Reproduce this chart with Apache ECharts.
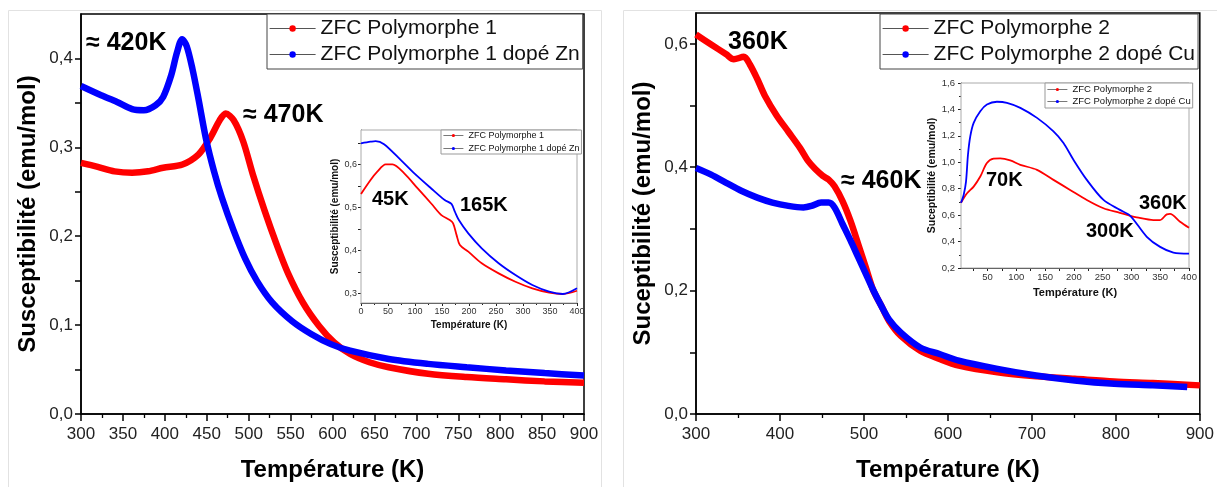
<!DOCTYPE html>
<html>
<head>
<meta charset="utf-8">
<script src="https://cdn.jsdelivr.net/npm/echarts@6.0.0/dist/echarts.min.js"></script>
<style>
html,body{margin:0;padding:0;background:#fff;}
#chart{width:1217px;height:487px;}
</style>
</head>
<body>
<div id="chart"></div>
<script>
// ---------- DATA ----------
// Main left panel: Polymorphe 1 (red) and Polymorphe 1 dopé Zn (blue), T in K, chi in emu/mol
const p1T   = [300, 320, 340, 361, 380, 398, 421, 440, 454, 465.6, 472.6, 482, 493.5, 505, 519, 533, 547, 565, 584, 602, 621, 644, 667, 714, 760, 807, 853, 900];
const p1Chi = [0.2825, 0.278, 0.273, 0.2714, 0.273, 0.277, 0.2807, 0.2918, 0.3103, 0.3307, 0.338, 0.3307, 0.3066, 0.2695, 0.2288, 0.1917, 0.1583, 0.1249, 0.099, 0.0804, 0.0675, 0.0582, 0.0526, 0.0452, 0.0415, 0.039, 0.0367, 0.0352];
const p1ZnT   = [300, 324, 343, 361, 375, 389, 398, 407.6, 414.5, 420.6, 426, 433, 440, 449, 458.6, 468, 482, 496, 510, 528, 551.5, 575, 598, 621, 667, 714, 760, 807, 853, 900];
const p1ZnChi = [0.369, 0.3586, 0.351, 0.343, 0.3418, 0.3474, 0.3567, 0.381, 0.4068, 0.4216, 0.414, 0.388, 0.355, 0.310, 0.2733, 0.2436, 0.2066, 0.1745, 0.1495, 0.1255, 0.1046, 0.0897, 0.0786, 0.0712, 0.0619, 0.0564, 0.0526, 0.049, 0.046, 0.0434];

// Main right panel: Polymorphe 2 (red) and Polymorphe 2 dopé Cu (blue)
const p2T   = [300, 318, 336, 345, 357, 364, 373, 382, 396, 410, 424, 433, 442, 451, 458, 465, 474.5, 484, 493, 502, 511, 521, 530, 544, 567, 590, 613, 659, 705, 751, 798, 844, 900];
const p2Chi = [0.615, 0.599, 0.583, 0.575, 0.579, 0.567, 0.543, 0.516, 0.484, 0.4575, 0.431, 0.411, 0.397, 0.386, 0.380, 0.369, 0.345, 0.313, 0.276, 0.2386, 0.201, 0.1745, 0.1505, 0.1265, 0.1025, 0.0892, 0.0785, 0.0677, 0.0613, 0.0571, 0.0528, 0.0502, 0.0464];
const p2CuT   = [300, 318, 336, 354.5, 373, 391, 410, 428, 437.6, 449, 458, 465, 474.5, 484, 493, 502, 511, 521, 530, 544, 567, 590, 613, 659, 705, 751, 798, 844, 885];
const p2CuChi = [0.3987, 0.388, 0.3747, 0.3614, 0.3507, 0.3427, 0.3373, 0.3347, 0.3373, 0.3427, 0.3427, 0.3347, 0.308, 0.2813, 0.2546, 0.228, 0.201, 0.1745, 0.153, 0.1318, 0.1078, 0.0972, 0.0865, 0.0732, 0.0624, 0.0544, 0.049, 0.0464, 0.0437];

// Left inset (low temperature)
const i1T   = [0, 17.7, 30.2, 45.8, 58.3, 80.1, 105, 130, 148.8, 164.4, 170.6, 176.9, 183.1, 198.7, 223.6, 254.9, 286, 317.3, 348.5, 373.5, 400];
const i1Chi = [0.531, 0.5636, 0.583, 0.600, 0.600, 0.579, 0.544, 0.509, 0.482, 0.4705, 0.463, 0.436, 0.4124, 0.397, 0.370, 0.3465, 0.327, 0.3116, 0.3016, 0.2984, 0.306];
const i1ZnT   = [0, 17.7, 27, 42.7, 73.9, 98.8, 130, 155, 167.5, 173.8, 181.2, 198.7, 223.6, 254.9, 286, 317.3, 348.5, 373.5, 400];
const i1ZnChi = [0.6488, 0.6527, 0.6543, 0.647, 0.610, 0.579, 0.544, 0.517, 0.508, 0.490, 0.4705, 0.4395, 0.4047, 0.370, 0.3426, 0.3194, 0.3039, 0.2984, 0.3116];

// Right inset (low temperature)
const i2T   = [4, 14.5, 26, 37.5, 49, 60.6, 72, 89.5, 107, 136, 164.6, 193.5, 222.5, 251.5, 280, 298, 309.3, 338.2, 349.8, 361.4, 367, 384.5, 400];
const i2Chi = [0.694, 0.766, 0.816, 0.892, 0.994, 1.027, 1.029, 1.014, 0.981, 0.943, 0.867, 0.791, 0.715, 0.652, 0.618, 0.595, 0.583, 0.563, 0.563, 0.606, 0.609, 0.55, 0.504];
const i2CuT   = [4, 8.6, 12.7, 16.1, 20.1, 26, 37.5, 49, 66.4, 83.8, 107, 136, 164.6, 182, 199.3, 222.5, 251.5, 280, 298, 326.7, 349.8, 372.9, 400];
const i2CuChi = [0.694, 0.753, 0.854, 1.057, 1.196, 1.298, 1.386, 1.437, 1.458, 1.450, 1.412, 1.336, 1.234, 1.146, 1.019, 0.867, 0.715, 0.64, 0.595, 0.436, 0.36, 0.317, 0.309];

// Tick values
const mainLeftYTicks  = [0, 0.05, 0.1, 0.15, 0.2, 0.25, 0.3, 0.35, 0.4];
const mainLeftYLabels = [0, 0.1, 0.2, 0.3, 0.4];
const mainRightYTicks  = [0, 0.1, 0.2, 0.3, 0.4, 0.5, 0.6];
const mainRightYLabels = [0, 0.2, 0.4, 0.6];
const inset1YTicks  = [0.3, 0.35, 0.4, 0.45, 0.5, 0.55, 0.6, 0.65];
const inset1YLabels = [0.3, 0.4, 0.5, 0.6];
const inset2XTicks  = [25, 50, 75, 100, 125, 150, 175, 200, 225, 250, 275, 300, 325, 350, 375, 400];
const inset2XLabels = [50, 100, 150, 200, 250, 300, 350, 400];

// Names
const nP1 = 'ZFC Polymorphe 1', nP1Zn = 'ZFC Polymorphe 1 dopé Zn';
const nP2 = 'ZFC Polymorphe 2', nP2Cu = 'ZFC Polymorphe 2 dopé Cu';

// ---------- CHART ----------
const FONT = '"Liberation Sans", Arial, sans-serif';
const RED = '#ff0000', BLUE = '#0000ff';
const pairs = (T, C) => T.map((t, i) => [t, C[i]]);
const comma = d => v => v.toFixed(d).replace('.', ',');

function mainX(grid, interval) {
  return {
    gridIndex: grid, type: 'value', min: 300, max: 900, interval: interval,
    axisLine: { onZero: false, lineStyle: { color: '#000', width: 1.5 } },
    axisTick: { length: 7, lineStyle: { color: '#000', width: 1.5 } },
    minorTick: { show: true, splitNumber: 2, length: 4, lineStyle: { color: '#000', width: 1.3 } },
    splitLine: { show: false },
    axisLabel: { fontSize: 17, color: '#222', margin: 12, fontFamily: FONT },
    name: 'Température (K)', nameLocation: 'middle', nameGap: 44,
    nameTextStyle: { fontSize: 24, fontWeight: 'bold', color: '#000', fontFamily: FONT }
  };
}
function mainY(grid, max, ticks, labels, name) {
  return {
    gridIndex: grid, type: 'value', min: 0, max: max,
    axisLine: { onZero: false, lineStyle: { color: '#000', width: 1.5 } },
    axisTick: { length: 6, customValues: ticks, lineStyle: { color: '#000', width: 1.5 } },
    splitLine: { show: false },
    axisLabel: { fontSize: 17, color: '#222', margin: 8, fontFamily: FONT, customValues: labels, formatter: comma(1) },
    name: name, nameLocation: 'middle', nameGap: 41,
    nameTextStyle: { fontSize: 24, fontWeight: 'bold', color: '#000', fontFamily: FONT }
  };
}
function insetAxisCommon(fs, nameFs) {
  return {
    type: 'value',
    axisLine: { onZero: false, lineStyle: { color: '#222', width: 1 } },
    axisTick: { length: 3, lineStyle: { color: '#222', width: 1 } },
    splitLine: { show: false },
    axisLabel: { fontSize: fs, color: '#333', margin: 4, fontFamily: FONT },
    nameLocation: 'middle',
    nameTextStyle: { fontSize: nameFs, fontWeight: 'bold', color: '#111', fontFamily: FONT }
  };
}
function mainSeries(name, x, y, data, color) {
  return {
    name: name, type: 'line', xAxisIndex: x, yAxisIndex: y, data: data,
    symbol: 'circle', showSymbol: false, smooth: 0.3,
    lineStyle: { color: color, width: 6.5 }, itemStyle: { color: color }, z: 3
  };
}
function insetSeries(name, x, y, data, color) {
  return {
    name: name, type: 'line', xAxisIndex: x, yAxisIndex: y, data: data,
    symbol: 'circle', showSymbol: false, smooth: 0.3,
    lineStyle: { color: color, width: 1.8 }, itemStyle: { color: color }, z: 6
  };
}
function legend(left, top, names, o) {
  return {
    left: left, top: top, orient: 'vertical', data: names, selectedMode: false,
    itemWidth: o.iw, itemHeight: o.ih, itemGap: o.gap, padding: o.pad,
    borderColor: o.bc, borderWidth: 1, backgroundColor: '#fff',
    textStyle: { fontSize: o.fs, lineHeight: o.lh, color: '#111', fontFamily: FONT },
    lineStyle: { color: '#555', width: o.lw }, z: 10
  };
}
function ann(text, x, y, size) {
  return { type: 'text', x: x, y: y, z: 20,
    style: { text: text, fill: '#000', fontSize: size, fontWeight: 'bold', fontFamily: FONT, verticalAlign: 'middle' } };
}

const ix1 = Object.assign(insetAxisCommon(9, 10), {
  gridIndex: 2, min: 0, max: 400, interval: 50,
  minorTick: { show: true, splitNumber: 2, length: 2, lineStyle: { color: '#222' } },
  name: 'Température (K)', nameGap: 17
});
const iy1 = Object.assign(insetAxisCommon(9, 10), {
  gridIndex: 2, min: 0.2775, max: 0.68, name: 'Susceptibilité (emu/mol)', nameGap: 19
});
iy1.axisTick = Object.assign({}, iy1.axisTick, { customValues: inset1YTicks });
iy1.axisLabel = Object.assign({}, iy1.axisLabel, { customValues: inset1YLabels, formatter: comma(1) });

const ix2 = Object.assign(insetAxisCommon(9.5, 11), {
  gridIndex: 3, min: 4, max: 400, name: 'Température (K)', nameGap: 19
});
ix2.axisTick = Object.assign({}, ix2.axisTick, { customValues: inset2XTicks });
ix2.axisLabel = Object.assign({}, ix2.axisLabel, { customValues: inset2XLabels });
const iy2 = Object.assign(insetAxisCommon(9.5, 10.5), {
  gridIndex: 3, min: 0.2, max: 1.6, interval: 0.2,
  minorTick: { show: true, splitNumber: 2, length: 2, lineStyle: { color: '#222' } },
  name: 'Suceptibilité (emu/mol)', nameGap: 21
});
iy2.axisLabel = Object.assign({}, iy2.axisLabel, { formatter: comma(1), margin: 6 });

const option = {
  animation: false,
  backgroundColor: '#fff',
  grid: [
    { left: 81, top: 14, width: 503, height: 405, show: true, borderColor: '#000', borderWidth: 1.5, backgroundColor: 'transparent' },
    { left: 696, top: 13, width: 504, height: 406, show: true, borderColor: '#000', borderWidth: 1.5, backgroundColor: 'transparent' },
    { left: 361, top: 130, width: 216, height: 173, show: true, borderColor: '#aaa', borderWidth: 1, backgroundColor: '#fff', z: 5 },
    { left: 961, top: 83, width: 228, height: 185, show: true, borderColor: '#aaa', borderWidth: 1, backgroundColor: '#fff', z: 5 }
  ],
  xAxis: [ mainX(0, 50), mainX(1, 100), ix1, ix2 ],
  yAxis: [
    mainY(0, 0.45, mainLeftYTicks, mainLeftYLabels, 'Susceptibilité (emu/mol)'),
    mainY(1, 0.65, mainRightYTicks, mainRightYLabels, 'Suceptibilité (emu/mol)'),
    iy1, iy2
  ],
  legend: [
    legend(267, 14, [nP1, nP1Zn], { iw: 46, ih: 8, gap: 5, pad: [4, 3, 4, 2], bc: '#444', fs: 21, lh: 21, lw: 1.2 }),
    legend(880, 14, [nP2, nP2Cu], { iw: 46, ih: 8, gap: 5, pad: [4, 3, 4, 2], bc: '#444', fs: 21, lh: 21, lw: 1.2 }),
    legend(441, 130, [nP1, nP1Zn], { iw: 20, ih: 4, gap: 2, pad: [0, 2, 0, 2], bc: '#999', fs: 9, lh: 11, lw: 0.8 }),
    legend(1045, 83, [nP2, nP2Cu], { iw: 20, ih: 4, gap: 1, pad: [1, 2, 1, 2], bc: '#999', fs: 9.5, lh: 11, lw: 0.8 })
  ],
  series: [
    mainSeries(nP1, 0, 0, pairs(p1T, p1Chi), RED),
    mainSeries(nP1Zn, 0, 0, pairs(p1ZnT, p1ZnChi), BLUE),
    mainSeries(nP2, 1, 1, pairs(p2T, p2Chi), RED),
    mainSeries(nP2Cu, 1, 1, pairs(p2CuT, p2CuChi), BLUE),
    insetSeries(nP1, 2, 2, pairs(i1T, i1Chi), RED),
    insetSeries(nP1Zn, 2, 2, pairs(i1ZnT, i1ZnChi), BLUE),
    insetSeries(nP2, 3, 3, pairs(i2T, i2Chi), RED),
    insetSeries(nP2Cu, 3, 3, pairs(i2CuT, i2CuChi), BLUE)
  ],
  graphic: [
    { type: 'rect', z: -1, shape: { x: 8.5, y: 10.5, width: 593, height: 490 }, style: { fill: 'none', stroke: '#e2e2e2', lineWidth: 1 } },
    { type: 'rect', z: -1, shape: { x: 623.5, y: 10.5, width: 600, height: 490 }, style: { fill: 'none', stroke: '#e2e2e2', lineWidth: 1 } },
    ann('≈ 420K', 86, 43, 25),
    ann('≈ 470K', 243, 115, 25),
    ann('360K', 728, 42, 25),
    ann('≈ 460K', 841, 181, 25),
    ann('45K', 372, 199, 20),
    ann('165K', 460, 205, 20),
    ann('70K', 986, 180, 20),
    ann('360K', 1139, 203, 20),
    ann('300K', 1086, 231, 20)
  ]
};

const chart = echarts.init(document.getElementById('chart'), null, { renderer: 'canvas' });
chart.setOption(option);
</script>
</body>
</html>
